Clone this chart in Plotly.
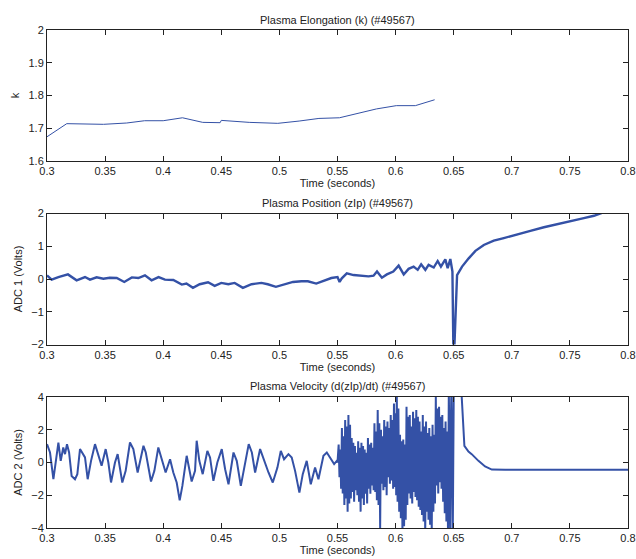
import plotly.graph_objects as go

# ---------------- data ----------------
k_time = [0.300, 0.317, 0.3486, 0.3686, 0.384, 0.400, 0.4166, 0.434, 0.449, 0.450,
          0.474, 0.4986, 0.517, 0.534, 0.5517, 0.5835, 0.6006, 0.617, 0.6336]
k_vals = [1.674, 1.714, 1.712, 1.716, 1.723, 1.723, 1.732, 1.718, 1.717, 1.724,
          1.718, 1.715, 1.722, 1.730, 1.732, 1.759, 1.769, 1.769, 1.787]

pos_time = [0.300, 0.304, 0.3098, 0.318, 0.3255, 0.3327, 0.337, 0.3427, 0.3485, 0.354,
            0.360, 0.3665, 0.373, 0.3786, 0.3843, 0.390, 0.396, 0.4015, 0.4087, 0.416,
            0.420, 0.4256, 0.4314, 0.4386, 0.4443, 0.450, 0.456, 0.4615, 0.4686, 0.476,
            0.4845, 0.490, 0.497, 0.5045, 0.5117, 0.519, 0.5245, 0.5317, 0.539, 0.5447,
            0.550, 0.5518, 0.5537, 0.558, 0.5638, 0.5695, 0.5767, 0.581, 0.584, 0.5882,
            0.5925, 0.598, 0.6026, 0.607, 0.6112, 0.6155, 0.619, 0.622, 0.6256, 0.6284,
            0.6328, 0.6362, 0.639, 0.6428, 0.6448, 0.6471, 0.6489, 0.6497, 0.6506, 0.6529,
            0.6572, 0.6629, 0.6687, 0.6759, 0.6845, 0.6931, 0.7046, 0.716, 0.7276, 0.739,
            0.7506, 0.762, 0.7707, 0.7779, 0.7800]
pos_vals = [0.11, -0.02, 0.06, 0.14, -0.04, 0.06, -0.02, 0.05, 0.01, 0.04,
            0.03, -0.09, 0.05, 0.03, 0.11, -0.04, 0.06, -0.02, -0.03, -0.17,
            -0.14, -0.27, -0.16, -0.10, -0.21, -0.12, -0.16, -0.12, -0.27, -0.16,
            -0.12, -0.16, -0.24, -0.17, -0.09, -0.07, -0.07, -0.14, -0.04, 0.03,
            0.06, -0.09, 0.02, 0.17, 0.12, 0.10, 0.08, 0.10, 0.23, 0.04,
            0.14, 0.23, 0.41, 0.14, 0.31, 0.38, 0.28, 0.45, 0.28, 0.43,
            0.35, 0.55, 0.38, 0.60, 0.33, 0.61, 0.23, -2.05, -2.05, 0.12,
            0.38, 0.63, 0.86, 1.04, 1.17, 1.25, 1.37, 1.47, 1.58, 1.68,
            1.76, 1.86, 1.93, 2.02, 2.05]

vel_time = [0.300, 0.3026, 0.3055, 0.3075, 0.3098, 0.3118, 0.314, 0.3155, 0.3172, 0.319,
            0.3212, 0.3241, 0.3261, 0.3284, 0.3304, 0.3327, 0.335, 0.3379, 0.3413, 0.3442,
            0.347, 0.3505, 0.3528, 0.3551, 0.3585, 0.3608, 0.3648, 0.3677, 0.3714, 0.3743,
            0.378, 0.383, 0.385, 0.3895, 0.3924, 0.3958, 0.3993, 0.4021, 0.4059, 0.4087,
            0.4116, 0.4142, 0.4165, 0.4202, 0.4245, 0.4274, 0.4288, 0.4311, 0.434, 0.438,
            0.4403, 0.4432, 0.4466, 0.4504, 0.4533, 0.4562, 0.4605, 0.4633, 0.4668, 0.4705,
            0.4736, 0.4763, 0.4791, 0.4834, 0.4863, 0.4906, 0.4943, 0.4983, 0.5012, 0.504,
            0.5078, 0.5106, 0.5135, 0.5172, 0.5201, 0.5235, 0.527, 0.5307, 0.5336, 0.5379,
            0.5408, 0.5436, 0.5471, 0.5494, 0.5500,
            0.5510, 0.5517, 0.5524, 0.5531, 0.5538, 0.5545, 0.5552, 0.5559, 0.5566, 0.5573,
            0.5580, 0.5587, 0.5594, 0.5601, 0.5608, 0.5615, 0.5622, 0.5629, 0.5636, 0.5643,
            0.5650, 0.5657, 0.5664, 0.5671, 0.5678, 0.5685, 0.5692, 0.5699, 0.5706, 0.5713,
            0.5720, 0.5727, 0.5734, 0.5741, 0.5748, 0.5755, 0.5762, 0.5769, 0.5776, 0.5783,
            0.5790, 0.5797, 0.5804, 0.5811, 0.5818, 0.5825, 0.5832, 0.5839, 0.5846, 0.5853,
            0.5860, 0.5867, 0.5874, 0.5881, 0.5888, 0.5895, 0.5902, 0.5909, 0.5916, 0.5923,
            0.5930, 0.5937, 0.5944, 0.5951, 0.5958, 0.5965, 0.5972, 0.5979, 0.5986, 0.5993,
            0.6000, 0.6005, 0.6010, 0.6017, 0.6024, 0.6031, 0.6038, 0.6045, 0.6052, 0.6059,
            0.6066, 0.6073, 0.6080, 0.6087, 0.6094, 0.6101, 0.6108, 0.6115, 0.6122, 0.6129,
            0.6136, 0.6143, 0.6150, 0.6157, 0.6164, 0.6171, 0.6178, 0.6185, 0.6192, 0.6199,
            0.6206, 0.6213, 0.6220, 0.6227, 0.6234, 0.6241, 0.6248, 0.6255, 0.6262, 0.6269,
            0.6276, 0.6283, 0.6290, 0.6297, 0.6304, 0.6311, 0.6318, 0.6325, 0.6332, 0.6339,
            0.6346, 0.6353, 0.6360, 0.6367, 0.6374, 0.6381, 0.6388, 0.6395, 0.6402, 0.6409,
            0.6416, 0.6423, 0.6430, 0.6437, 0.6444, 0.6451, 0.6458, 0.6464, 0.6470, 0.6475,
            0.6480, 0.6486, 0.6492, 0.6502, 0.6560, 0.6569, 0.6592, 0.6627, 0.6655, 0.6713,
            0.677, 0.6828, 0.6943, 0.720, 0.750, 0.780, 0.800]
vel_vals = [1.12, 0.61, -1.02, 0.10, 1.22, 0.10, 0.92, 0.51, 1.12, 0.61,
            -0.82, -1.02, -0.71, 0.82, 0.61, 0.31, -1.02, 0.10, 1.12, 0.51,
            -0.20, 0.82, 0.00, -1.22, 0.00, 0.51, -1.22, -0.51, 1.22, 0.82,
            -0.61, 1.02, 0.61, -1.16, -0.51, 0.92, 0.10, -0.61, 0.20, -0.61,
            -1.22, -2.31, -1.43, 0.41, -1.16, -0.51, 1.33, 0.10, -0.71, 0.71,
            0.31, -1.12, 0.00, 0.82, -0.41, -1.33, 0.61, 0.10, -1.43, -0.10,
            1.12, 0.61, -0.61, 0.82, 0.20, -0.61, -1.22, -0.31, 0.71, 0.20,
            0.51, 0.31, -0.51, -1.84, -0.71, 0.10, -1.33, -0.31, -1.02, 0.41,
            0.61, 0.31, -0.10, 0.10, 0.00,
            1.1, -0.9, 0.8, -1.6, 2.1, -1.9, 1.6, -2.6, 2.6, -2.2,
            2.2, -3.0, 2.9, -2.5, 2.3, -2.2, 1.5, -1.8, 1.2, -2.4,
            1.0, -1.7, 0.6, -2.0, 1.3, -2.4, 0.9, -3.0, 1.2, -2.2,
            1.0, -2.6, 0.8, -1.9, 0.6, -2.5, 1.5, -1.6, 1.1, -1.9,
            1.2, -1.4, 0.9, -1.7, 2.4, -1.8, 1.9, -2.3, 3.2, -2.6,
            2.4, -4.0, 2.0, -1.3, 1.6, -1.7, 2.6, -1.5, 2.2, -2.0,
            2.5, -0.9, 2.1, -1.3, 2.9, -1.1, 2.6, -1.6, 3.6, -1.5,
            3.0, -2.0, 4.5, -2.4, 3.3, -3.0, 1.7, -3.4, 1.3, -4.3,
            1.4, -3.9, 1.1, -3.5, 3.4, -2.6, 2.8, -1.9, 2.9, -2.2,
            2.2, -2.5, 3.1, -1.8, 2.7, -2.1, 3.2, -2.3, 2.8, -2.7,
            2.5, -2.9, 1.9, -3.2, 2.9, -3.6, 2.2, -4.3, 2.5, -3.0,
            1.8, -3.5, 2.1, -3.8, 1.6, -4.2, 2.3, -3.0, 1.7, -2.5,
            4.0, -1.4, 3.3, -1.9, 3.4, -1.2, 2.8, -1.6, 2.9, -2.4,
            2.1, -3.1, 2.5, -3.6, 1.9, -4.5, 4.5, -2.8, -4.5, 2.2,
            4.5, 0.5, -4.5, 6.0, 6.0, 4.0, 1.02, 0.67, 0.51, 0.10,
            -0.24, -0.43, -0.45, -0.44, -0.45, -0.44, -0.44]

titles = ["Plasma Elongation (k) (#49567)",
          "Plasma Position (zIp) (#49567)",
          "Plasma Velocity (d(zIp)/dt) (#49567)"]
ylabels = ["k", "ADC 1 (Volts)", "ADC 2 (Volts)"]
xlabel = "Time (seconds)"
x_ticks = [0.3, 0.35, 0.4, 0.45, 0.5, 0.55, 0.6, 0.65, 0.7, 0.75, 0.8]
y1_ticks = [1.6, 1.7, 1.8, 1.9, 2]
y2_ticks = [-2, -1, 0, 1, 2]
y3_ticks = [-4, -2, 0, 2, 4]

# ---------------- figure ----------------
BLUE = "#3451a6"
FONT = "Liberation Sans, Arial, sans-serif"
W, H = 636, 559
ML, MR, MT, MB = 47, 8, 30, 31
PH = H - MT - MB

def py(pix):
    return (H - MB - pix) / PH

domains = [[py(161), 1.0], [py(344.5), py(213.5)], [0.0, py(397)]]

fig = go.Figure()
fig.add_trace(go.Scatter(x=k_time, y=k_vals, mode="lines",
                         line=dict(color=BLUE, width=1), xaxis="x", yaxis="y"))
fig.add_trace(go.Scatter(x=pos_time, y=pos_vals, mode="lines",
                         line=dict(color=BLUE, width=2.4), xaxis="x2", yaxis="y2"))
fig.add_trace(go.Scatter(x=vel_time, y=vel_vals, mode="lines",
                         line=dict(color=BLUE, width=2.0), xaxis="x3", yaxis="y3"))

axis_common = dict(showline=True, linecolor="#222", linewidth=1, mirror="ticks",
                   ticks="inside", ticklen=5, tickcolor="#222", showgrid=False,
                   zeroline=False, automargin=False,
                   tickfont=dict(family=FONT, size=11, color="#222"))

yticks = [y1_ticks, y2_ticks, y3_ticks]
yranges = [[1.6, 2.0], [-2, 2], [-4, 4]]
layout = dict(width=W, height=H, margin=dict(l=ML, r=MR, t=MT, b=MB),
              paper_bgcolor="white", plot_bgcolor="white", showlegend=False,
              font=dict(family=FONT, size=11, color="#222"))
for i in range(3):
    sx = "" if i == 0 else str(i + 1)
    layout["xaxis" + sx] = dict(axis_common, domain=[0, 1], range=[0.3, 0.8],
                                anchor="y" + sx, tickvals=x_ticks,
                                ticktext=[f"{v:g}" for v in x_ticks],
                                title=dict(text=xlabel, standoff=2,
                                           font=dict(family=FONT, size=11, color="#222")))
    layout["yaxis" + sx] = dict(axis_common, domain=domains[i], range=yranges[i],
                                anchor="x" + sx, tickvals=yticks[i],
                                ticktext=[f"{v:g}".replace("-", "\u2212") for v in yticks[i]],
                                title=dict(text=ylabels[i], standoff=6,
                                           font=dict(family=FONT, size=11, color="#222")))

title_y = [20, 203, 386]
layout["annotations"] = [dict(text=titles[i], x=0.5, xref="paper", y=py(title_y[i]),
                              yref="paper", showarrow=False, xanchor="center",
                              yanchor="middle",
                              font=dict(family=FONT, size=11, color="#222"))
                         for i in range(3)]
fig.update_layout(**layout)
fig.write_html("out.html")
